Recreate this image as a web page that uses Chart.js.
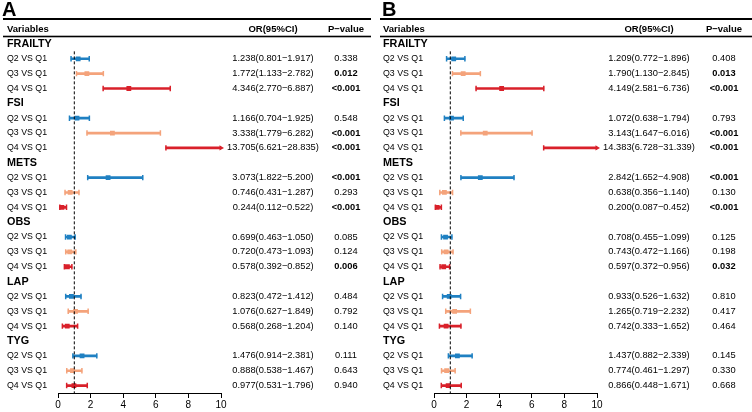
<!DOCTYPE html>
<html><head><meta charset="utf-8">
<script src="https://cdn.jsdelivr.net/npm/chart.js@4"></script>
<style>
body{margin:0;background:#fff;width:752px;height:412px;position:relative;overflow:hidden}
.p{position:absolute;top:0;width:376px;height:412px}
</style></head><body>
<div class="p" style="left:0"><canvas id="a"></canvas></div>
<div class="p" style="left:376px"><canvas id="b"></canvas></div>
<script>
const groups=['FRAILTY','FSI','METS','OBS','LAP','TYG'];
const comps=['Q2 VS Q1','Q3 VS Q1','Q4 VS Q1'];
const xTicks=[0,2,4,6,8,10];

// panel A
const orA=[1.238,1.772,4.346, 1.166,3.338,13.705, 3.073,0.746,0.244, 0.699,0.720,0.578, 0.823,1.076,0.568, 1.476,0.888,0.977];
const loA=[0.801,1.133,2.770, 0.704,1.779,6.621, 1.822,0.431,0.112, 0.463,0.473,0.392, 0.472,0.627,0.268, 0.914,0.538,0.531];
const hiA=[1.917,2.782,6.887, 1.925,6.282,28.835, 5.200,1.287,0.522, 1.050,1.093,0.852, 1.412,1.849,1.204, 2.381,1.467,1.796];
const pA=['0.338','0.012','<0.001', '0.548','<0.001','<0.001', '<0.001','0.293','<0.001', '0.085','0.124','0.006', '0.484','0.792','0.140', '0.111','0.643','0.940'];
// panel B
const orB=[1.209,1.790,4.149, 1.072,3.143,14.383, 2.842,0.638,0.200, 0.708,0.743,0.597, 0.933,1.265,0.742, 1.437,0.774,0.866];
const loB=[0.772,1.130,2.581, 0.638,1.647,6.728, 1.652,0.356,0.087, 0.455,0.472,0.372, 0.526,0.719,0.333, 0.882,0.461,0.448];
const hiB=[1.896,2.845,6.736, 1.794,6.016,31.339, 4.908,1.140,0.452, 1.099,1.166,0.956, 1.632,2.232,1.652, 2.339,1.297,1.671];
const pB=['0.408','0.013','<0.001', '0.793','<0.001','<0.001', '<0.001','0.130','<0.001', '0.125','0.198','0.032', '0.810','0.417','0.464', '0.145','0.330','0.668'];

const colors=['#1f80c2','#f4a37b','#d9202a'];
const FONT='"Liberation Sans", Arial, sans-serif';

function rowOf(i){return Math.floor(i/3)*4+1+i%3;}
function ci(v,l,h){return v.toFixed(3)+'('+l.toFixed(3)+'\u2212'+h.toFixed(3)+')';}

function makeChart(id,letter,or,lo,hi,p,geo){
 const rows=or.map((v,i)=>rowOf(i));
 const col=or.map((v,i)=>colors[i%3]);
 const xMax=xTicks[xTicks.length-1];
 let caps=[],capCol=[],arrows=[],arrCol=[];
 or.forEach((v,i)=>{
  caps.push({x:lo[i],y:rows[i]});capCol.push(col[i]);
  if(hi[i]<=xMax){caps.push({x:hi[i],y:rows[i]});capCol.push(col[i]);}
  else{arrows.push({x:xMax,y:rows[i]});arrCol.push(col[i]);}
 });
 const table={id:'table',afterDraw(c){
  const ctx=c.ctx,y=c.scales.y;
  ctx.save();ctx.fillStyle='#000';
  ctx.font='bold 20px '+FONT;ctx.textBaseline='alphabetic';ctx.textAlign='left';
  ctx.fillText(letter,geo.letterX,15.5);
  ctx.fillRect(geo.l,18,geo.r-geo.l,2);
  ctx.fillRect(geo.l,c.chartArea.top-0.8,geo.r-geo.l,1.6);
  ctx.textBaseline='middle';
  ctx.font='bold 9.5px '+FONT;
  let hy=y.getPixelForValue(-1);
  ctx.fillText('Variables',7,hy);
  ctx.textAlign='center';
  ctx.fillText('OR(95%CI)',geo.orX,hy);
  ctx.fillText('P\u2212value',geo.pX,hy);
  ctx.font='bold 10.8px '+FONT;
  groups.forEach((g,k)=>{ctx.textAlign='left';ctx.fillText(g,7,y.getPixelForValue(k*4));});
  or.forEach((v,i)=>{
   let yy=y.getPixelForValue(rows[i]);
   ctx.font='8.8px '+FONT;ctx.textAlign='left';
   ctx.fillText(comps[i%3],7,yy);
   ctx.font='9.3px '+FONT;ctx.textAlign='center';
   ctx.fillText(ci(v,lo[i],hi[i]),geo.orX,yy);
   let sig=p[i][0]=='<'||+p[i]<0.05;
   ctx.font=(sig?'bold ':'')+'9.3px '+FONT;
   ctx.fillText(p[i],geo.pX,yy);
  });
  ctx.restore();
 }};
 new Chart(document.getElementById(id),{type:'scatter',data:{datasets:[
  {type:'line',showLine:true,data:[{x:1,y:0.5},{x:1,y:23.5}],borderColor:'#000',borderWidth:1,borderDash:[3,2],pointRadius:0},
  {type:'bar',indexAxis:'y',data:rows.map((r,i)=>({y:r,x:[lo[i],hi[i]]})),backgroundColor:col,barThickness:2,borderWidth:0},
  {data:caps,pointStyle:'line',rotation:90,pointRadius:2.7,borderColor:capCol,borderWidth:1.5},
  {data:or.map((v,i)=>({x:v,y:rows[i]})),pointStyle:'rect',pointRadius:3.4,backgroundColor:col,borderWidth:0},
  {data:arrows,pointStyle:'triangle',rotation:90,pointRadius:3,backgroundColor:arrCol,borderWidth:0,clip:false}
 ]},options:{
  responsive:true,maintainAspectRatio:false,animation:false,events:[],
  layout:{padding:{left:58,right:155,top:36.5,bottom:0}},
  plugins:{legend:{display:false},tooltip:{enabled:false}},
  scales:{
   x:{type:'linear',min:0,max:xMax,offset:false,afterBuildTicks:s=>{s.ticks=xTicks.map(v=>({value:v}));},
    ticks:{color:'#000',font:{family:FONT,size:10},padding:1},
    grid:{display:true,offset:false,drawOnChartArea:false,drawTicks:true,tickLength:5,color:'#000',lineWidth:1},
    border:{display:true,color:'#000',width:1}},
   y:{type:'linear',min:-0.5,max:23.5,reverse:true,offset:false,display:false,grid:{offset:false}}
  }
 },plugins:[table]});
}
makeChart('a','A',orA,loA,hiA,pA,{letterX:2,l:3,r:371,orX:273,pX:346});
makeChart('b','B',orB,loB,hiB,pB,{letterX:6,l:4,r:376,orX:273,pX:348});
</script></body></html>
